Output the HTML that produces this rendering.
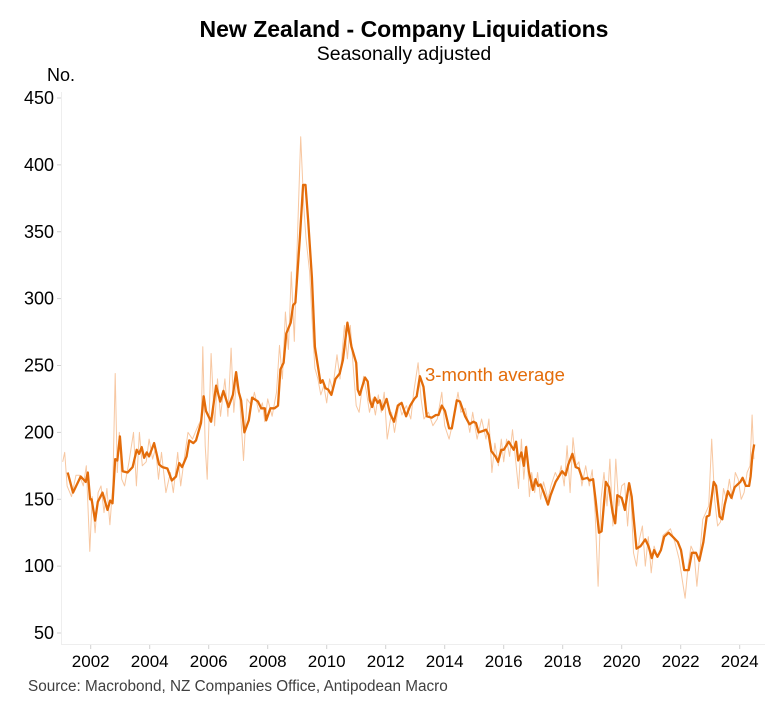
<!DOCTYPE html>
<html><head><meta charset="utf-8"><style>
body{margin:0;background:#fff;width:772px;height:699px;overflow:hidden;font-family:"Liberation Sans",Arial,sans-serif}
svg text{font-family:"Liberation Sans",Arial,sans-serif}
</style></head><body>
<svg id="chart" width="772" height="699" viewBox="0 0 772 699" xmlns="http://www.w3.org/2000/svg">
<text x="404" y="37" text-anchor="middle" font-size="23" font-weight="bold" fill="#000">New Zealand - Company Liquidations</text>
<text x="404" y="60" text-anchor="middle" font-size="19.5" fill="#000">Seasonally adjusted</text>
<text x="47" y="81" font-size="18" fill="#000">No.</text>
<line x1="61.5" y1="92" x2="61.5" y2="644" stroke="#eeeeee" stroke-width="1"/>
<line x1="61" y1="644.5" x2="765" y2="644.5" stroke="#eeeeee" stroke-width="1"/>
<g id="yticks"></g><g id="xticks"></g>
<g id="series"></g>
<text x="425" y="381" font-size="18.5" fill="#e36c0a">3-month average</text>
<text x="28" y="691" font-size="15.3" fill="#404040">Source: Macrobond, NZ Companies Office, Antipodean Macro</text>
</svg>
<script>
const yTicks=[50,100,150,200,250,300,350,400,450];
const xTicks=[2002,2004,2006,2008,2010,2012,2014,2016,2018,2020,2022,2024];
const avgDates=[2001.22,2001.4,2001.66,2001.83,2001.9,2001.98,2002.03,2002.15,2002.24,2002.4,2002.57,2002.66,2002.74,2002.83,2002.9,2002.99,2003.08,2003.25,2003.42,2003.56,2003.64,2003.73,2003.81,2003.9,2003.98,2004.15,2004.32,2004.43,2004.6,2004.75,2004.89,2005.0,2005.1,2005.25,2005.34,2005.48,2005.57,2005.74,2005.83,2005.91,2006.08,2006.25,2006.39,2006.5,2006.67,2006.82,2006.93,2007.02,2007.1,2007.21,2007.36,2007.47,2007.61,2007.67,2007.78,2007.9,2007.95,2008.09,2008.23,2008.35,2008.43,2008.54,2008.63,2008.78,2008.86,2008.94,2009.09,2009.2,2009.28,2009.37,2009.5,2009.6,2009.79,2009.86,2009.96,2010.05,2010.16,2010.3,2010.44,2010.55,2010.7,2010.84,2011.0,2011.05,2011.12,2011.3,2011.39,2011.46,2011.54,2011.63,2011.73,2011.8,2011.88,2012.03,2012.15,2012.28,2012.41,2012.54,2012.69,2012.83,2012.97,2013.05,2013.16,2013.28,2013.39,2013.56,2013.7,2013.79,2013.9,2014.01,2014.15,2014.24,2014.41,2014.52,2014.69,2014.84,2014.97,2015.06,2015.15,2015.29,2015.4,2015.49,2015.58,2015.72,2015.81,2015.92,2016.0,2016.17,2016.34,2016.42,2016.49,2016.6,2016.68,2016.76,2016.85,2016.99,2017.08,2017.17,2017.25,2017.36,2017.5,2017.59,2017.76,2017.98,2018.1,2018.19,2018.33,2018.44,2018.55,2018.67,2018.84,2018.91,2019.03,2019.12,2019.23,2019.32,2019.46,2019.57,2019.69,2019.78,2019.85,2020.0,2020.11,2020.25,2020.34,2020.5,2020.64,2020.8,2020.91,2021.02,2021.1,2021.21,2021.33,2021.44,2021.59,2021.73,2021.9,2022.01,2022.12,2022.27,2022.38,2022.52,2022.63,2022.77,2022.88,2022.97,2023.12,2023.2,2023.32,2023.41,2023.49,2023.6,2023.72,2023.83,2024.02,2024.1,2024.21,2024.32,2024.37,2024.43,2024.49];
const avgValues=[170,155,167,163,170,150,150,134,148,155,142,149,147,180,179,197,171,170,174,187,184,189,181,185,182,192,176,174,173,164,167,177,174,182,194,192,194,207,227,216,208,235,223,231,219,228,245,230,224,200,209,226,224,223,218,218,209,218,218,220,247,252,274,282,295,297,346,385,385,359,316,264,237,239,233,232,228,240,244,254,282,264,252,232,228,241,238,224,219,226,222,224,217,225,214,208,220,222,212,220,225,227,242,234,212,211,213,213,220,216,203,203,224,223,212,206,208,207,200,201,202,198,186,182,178,187,187,193,187,193,179,185,175,189,171,157,165,160,161,155,146,153,163,171,168,176,184,174,173,165,166,164,165,149,125,126,163,159,140,132,153,151,142,162,152,113,115,120,115,106,112,107,112,122,125,122,118,112,97,97,110,110,104,118,137,138,163,160,137,135,146,156,151,159,163,166,160,160,167,183,191];
const monDates=[2001.05,2001.12,2001.2,2001.35,2001.5,2001.62,2001.75,2001.85,2001.97,2002.05,2002.15,2002.25,2002.35,2002.45,2002.55,2002.65,2002.75,2002.83,2002.9,2002.97,2003.05,2003.15,2003.3,2003.45,2003.55,2003.65,2003.75,2003.88,2003.98,2004.1,2004.2,2004.3,2004.4,2004.55,2004.7,2004.8,2004.95,2005.05,2005.2,2005.3,2005.45,2005.6,2005.75,2005.8,2005.88,2005.95,2006.08,2006.2,2006.3,2006.4,2006.55,2006.65,2006.76,2006.85,2006.95,2007.05,2007.18,2007.3,2007.45,2007.55,2007.7,2007.82,2007.9,2008.0,2008.15,2008.3,2008.4,2008.5,2008.6,2008.7,2008.8,2008.9,2009.0,2009.12,2009.22,2009.3,2009.42,2009.52,2009.6,2009.7,2009.8,2009.9,2010.0,2010.1,2010.2,2010.35,2010.45,2010.6,2010.7,2010.8,2010.9,2011.0,2011.1,2011.25,2011.35,2011.45,2011.55,2011.65,2011.75,2011.85,2011.95,2012.05,2012.2,2012.3,2012.45,2012.55,2012.7,2012.85,2012.95,2013.1,2013.2,2013.3,2013.45,2013.6,2013.75,2013.9,2014.0,2014.15,2014.3,2014.45,2014.55,2014.7,2014.85,2014.95,2015.1,2015.25,2015.4,2015.5,2015.6,2015.7,2015.82,2015.92,2016.0,2016.1,2016.2,2016.3,2016.4,2016.5,2016.6,2016.68,2016.78,2016.87,2016.95,2017.05,2017.15,2017.25,2017.35,2017.5,2017.6,2017.75,2017.85,2017.95,2018.05,2018.15,2018.25,2018.35,2018.45,2018.55,2018.65,2018.78,2018.9,2019.0,2019.1,2019.2,2019.3,2019.4,2019.5,2019.6,2019.7,2019.8,2019.9,2020.0,2020.1,2020.2,2020.3,2020.4,2020.5,2020.6,2020.7,2020.8,2020.9,2021.0,2021.1,2021.2,2021.3,2021.4,2021.5,2021.65,2021.8,2021.95,2022.05,2022.15,2022.25,2022.35,2022.45,2022.55,2022.65,2022.75,2022.85,2022.95,2023.05,2023.15,2023.25,2023.35,2023.45,2023.55,2023.65,2023.75,2023.85,2023.95,2024.05,2024.15,2024.25,2024.35,2024.42,2024.48];
const monValues=[178,185,160,152,168,168,160,175,111,152,125,155,160,140,158,131,160,244,170,200,165,160,178,200,160,200,175,178,195,180,188,165,185,155,170,155,185,160,185,200,195,203,210,264,190,165,259,205,240,212,240,212,263,215,240,225,179,225,220,230,215,222,208,225,212,230,265,240,290,262,320,268,340,421,370,345,320,278,248,240,228,235,222,240,232,258,240,280,255,280,248,220,215,242,230,215,225,213,228,215,230,195,215,200,222,213,220,210,230,252,225,210,215,205,210,230,205,195,210,230,215,218,200,215,195,210,195,210,170,192,175,195,178,195,182,202,180,158,195,165,190,152,170,155,170,150,163,150,160,170,165,175,160,190,155,196,175,178,160,175,160,172,140,85,150,170,145,180,130,180,145,160,162,130,160,110,100,120,130,100,122,95,115,108,110,123,125,128,118,105,90,76,100,115,110,85,110,135,140,145,195,150,130,133,158,150,165,150,170,165,150,155,170,175,213,180];

const NS='http://www.w3.org/2000/svg';
const xS=d=>90.7+(d-2002)*29.5;
const yS=v=>98+(450-v)*(535/400);
const yt=document.getElementById('yticks'), xt=document.getElementById('xticks'), sg=document.getElementById('series');
function mk(tag,attrs,parent){const e=document.createElementNS(NS,tag);for(const k in attrs)e.setAttribute(k,attrs[k]);parent.appendChild(e);return e;}
yTicks.forEach(v=>{
  const l=mk('line',{x1:57,x2:61,y1:yS(v),y2:yS(v),stroke:'#d0d0d0'},yt);
  
  
  const t=mk('text',{x:54,y:yS(v)+6,'text-anchor':'end','font-size':18,fill:'#000'},yt);
  t.textContent=v;
  
  
});
xTicks.forEach(d=>{
  const l=mk('line',{x1:xS(d),x2:xS(d),y1:645,y2:649,stroke:'#d0d0d0'},xt);
  
  
  const t=mk('text',{x:xS(d),y:667,'text-anchor':'middle','font-size':17,fill:'#000'},xt);
  t.textContent=d;
  
  
});
const pm=monDates.map((d,i)=>xS(d).toFixed(1)+','+yS(monValues[i]).toFixed(1)).join(' ');
const m=mk('polyline',{points:pm,fill:'none',stroke:'#f5b98a',"stroke-width":1,"stroke-linejoin":'round',opacity:0.8},sg);


const pa=avgDates.map((d,i)=>xS(d).toFixed(1)+','+yS(avgValues[i]).toFixed(1)).join(' ');
const a=mk('polyline',{points:pa,fill:'none',stroke:'#e36c0a',"stroke-width":2.3,"stroke-linejoin":'round'},sg);


</script>
</body></html>
